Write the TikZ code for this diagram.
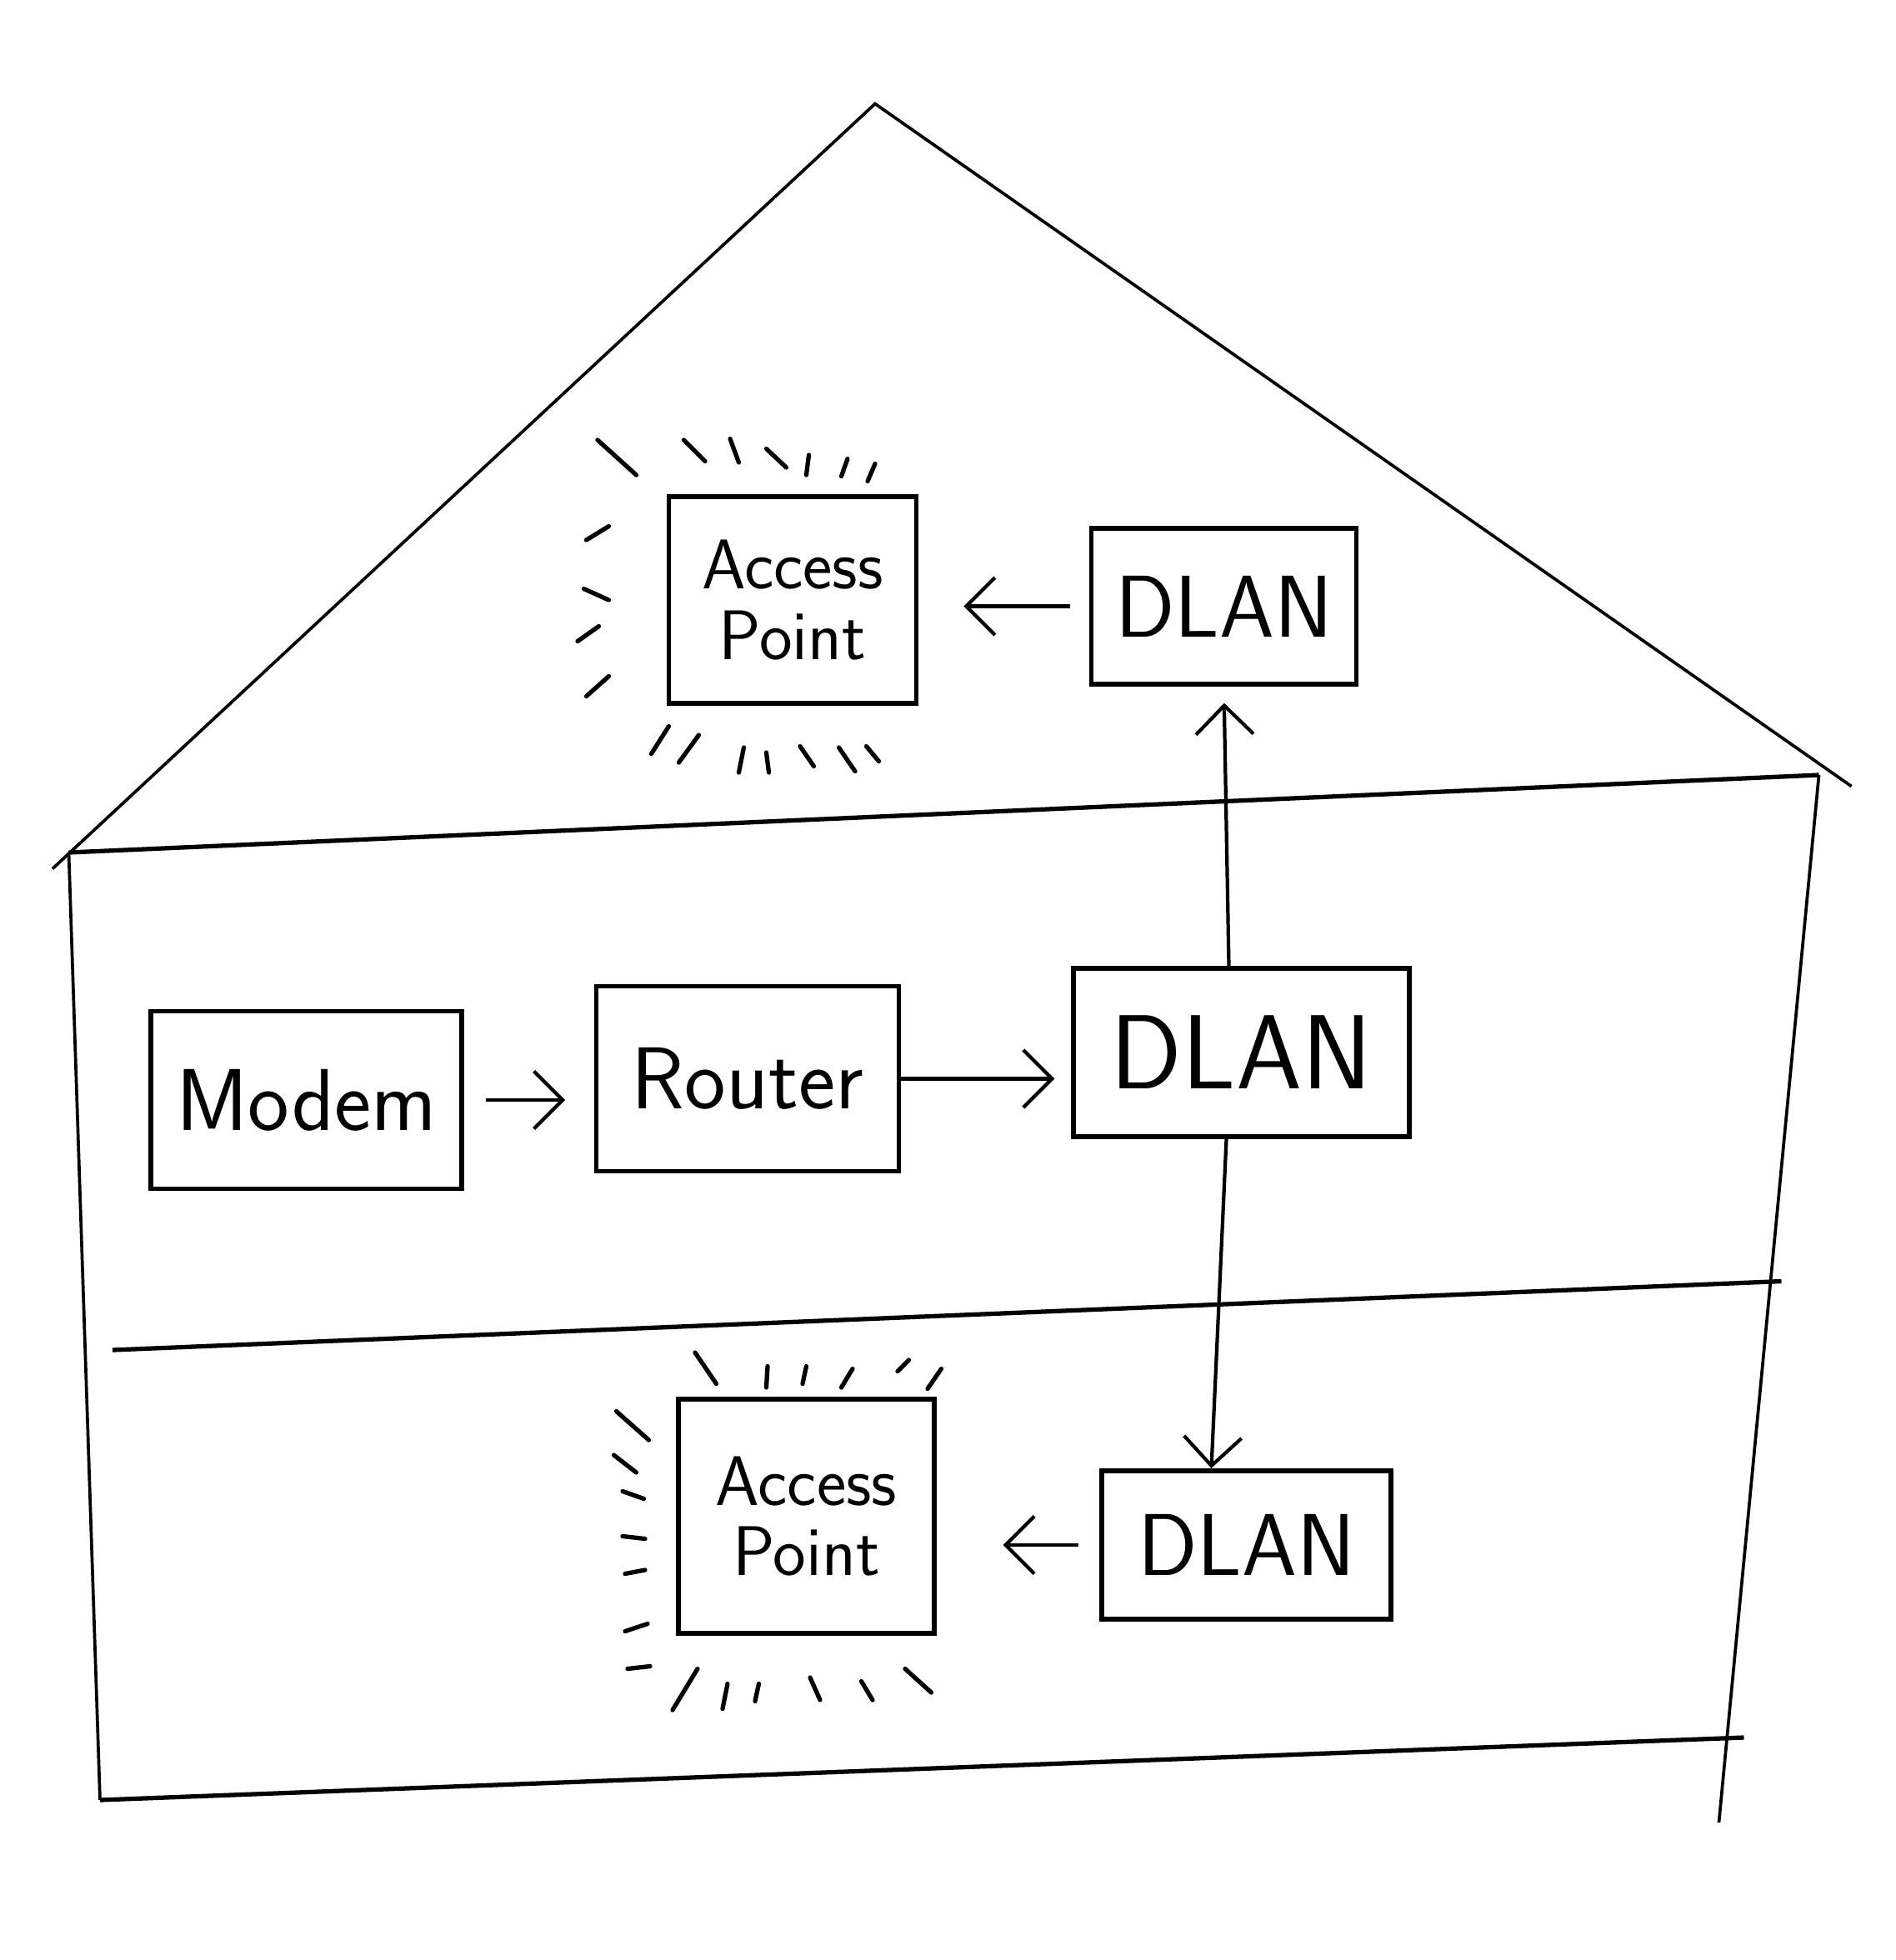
\documentclass[tikz,border=0pt]{standalone}
\usepackage{tikz}
\usetikzlibrary{arrows.meta}
\tikzset{
  devbox/.style={draw,line width=1.1pt,inner sep=2pt,align=center,
    font=\sffamily\fontsize{20}{20}\selectfont},
  apbox/.style={devbox,font=\sffamily\fontsize{16}{16}\selectfont},
  wall/.style={line width=0.7pt},
  floor/.style={line width=1pt},
  ray/.style={line width=1pt,line cap=round},
  link/.style={->,line width=0.8pt}
}

\begin{document}
\begin{tikzpicture}[x=0.1mm,y=-0.1mm,>={Straight Barb[length=2.3mm,width=4.6mm]}]
        \useasboundingbox (0,0) rectangle (1516,1568);
        % house outline: roof, walls and the two storeys
        \coordinate (apex) at (700,83);
        \coordinate (eaveL) at (55,682);
        \coordinate (eaveR) at (1455,620);
        \draw[wall] (42,695) -- (apex) -- (1481,629);
        \draw[floor] (eaveL) -- (eaveR);
        \draw[wall] (eaveL) -- (80,1440);
        \draw[wall] (eaveR) -- (1375,1458);
        \draw[floor] (90,1080) -- (1425,1025);
        \draw[floor] (80,1440) -- (1395,1390);

        % devices
        \node[apbox,minimum width=1.98cm,minimum height=1.65cm] (apTop) at (634,480) {Access\\Point};
        \node[devbox,minimum width=2.12cm,minimum height=1.25cm] (dlanTop) at (979,485) {DLAN};
        \node[devbox,minimum width=2.49cm,minimum height=1.42cm] (modem) at (245,880) {Modem};
        \node[devbox,minimum width=2.42cm,minimum height=1.48cm] (router) at (598,863) {Router};
        \node[devbox,minimum width=2.69cm,minimum height=1.35cm,
          font=\sffamily\fontsize{24}{24}\selectfont] (dlanMid) at (993,842) {DLAN};
        \node[apbox,minimum width=2.05cm,minimum height=1.87cm] (apBot) at (645,1213) {Access\\Point};
        \node[devbox,minimum width=2.31cm,minimum height=1.19cm] (dlanBot) at (997,1236) {DLAN};

        % connections
        \draw[link,shorten <=1.7mm,shorten >=2.3mm] (modem.east) -- (modem.east -| router.west);
        \draw[link,shorten >=1.3mm] (router.east) -- (router.east -| dlanMid.west);
        \draw[link,shorten >=1.3mm] ([xshift=-1mm]dlanMid.north) -- (dlanTop.south);
        \draw[link] ([xshift=-1.2mm]dlanMid.south) -- ([xshift=-2.8mm]dlanBot.north);
        \draw[link,shorten <=1.5mm,shorten >=3.6mm] (dlanTop.west) -- (dlanTop.west -| apTop.east);
        \draw[link,shorten <=1.7mm,shorten >=5.3mm] (dlanBot.west) -- (dlanBot.west -| apBot.east);

        % radio ticks round the access points
        \foreach \xa/\ya/\xb/\yb in {478/352/509/380, 547/352/564/369, 584/351/591/370,
            613/359/629/374, 647/364/645/380, 678/367/673/381, 700/371/694/385,
            487/421/469/432, 467/471/487/480, 479/501/462/513, 487/541/469/557,
            535/581/521/603, 559/588/543/610, 595/598/591/618, 613/602/615/618,
            640/597/651/613, 671/598/684/617, 693/597/703/609}
          \draw[ray] (\xa,\ya) -- (\xb,\yb);
        \foreach \xa/\ya/\xb/\yb in {556/1082/573/1107, 614/1093/613/1110, 645/1093/642/1107,
            682/1095/673/1110, 727/1088/718/1097, 753/1095/742/1111,
            493/1129/519/1152, 491/1164/509/1178, 498/1193/515/1199, 498/1229/516/1231,
            500/1259/516/1256, 500/1305/518/1299, 502/1335/520/1333,
            558/1335/538/1368, 582/1347/578/1367, 607/1347/604/1361,
            648/1342/656/1360, 689/1345/698/1360, 724/1335/745/1354}
          \draw[ray] (\xa,\ya) -- (\xb,\yb);
      \end{tikzpicture}
\end{document}
